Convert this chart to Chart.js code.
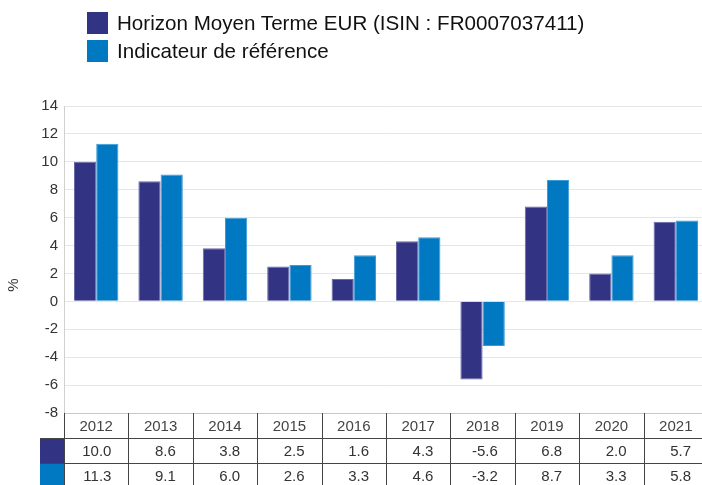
<!DOCTYPE html>
<html>
<head>
<meta charset="utf-8">
<script src="https://cdn.jsdelivr.net/npm/chart.js@4"></script>
<style>
  html, body { margin: 0; padding: 0; background: #fff; overflow: hidden; }
  #wrap { position: relative; width: 702px; height: 485px; overflow: hidden; }
  #myChart { position: absolute; left: 0; top: 0; }
  #legend { position: absolute; left: 87px; top: 12px; font-family: "Liberation Sans", Arial, sans-serif; font-size: 20.6px; color: #111; }
  .item { height: 28px; line-height: 22px; display: flex; align-items: flex-start; }
  .sw { width: 21px; height: 22px; margin-right: 9px; }
</style>
</head>
<body>
<div id="wrap">
  <canvas id="myChart" width="708" height="485"></canvas>
  <div id="legend"></div>
</div>
<script>
const years = ['2012', '2013', '2014', '2015', '2016', '2017', '2018', '2019', '2020', '2021'];
const fundValues = [10.0, 8.6, 3.8, 2.5, 1.6, 4.3, -5.6, 6.8, 2.0, 5.7];
const refValues = [11.3, 9.1, 6.0, 2.6, 3.3, 4.6, -3.2, 8.7, 3.3, 5.8];
const seriesNames = ['Horizon Moyen Terme EUR (ISIN : FR0007037411)', 'Indicateur de référence'];
const colors = ['#333384', '#0079c2'];
const borders = ['#6a6aa8', '#3d9ad6'];

// html legend
const legend = document.getElementById('legend');
seriesNames.forEach(function (name, i) {
    const row = document.createElement('div');
    row.className = 'item';
    row.innerHTML = '<span class="sw" style="background:' + colors[i] + '"></span><span>' + name + '</span>';
    legend.appendChild(row);
});

/* table under the bars + axis title */
const tablePlugin = {
    id: 'dataTable',
    afterDraw(chart) {
        const ctx = chart.ctx;
        const x = chart.scales.x;
        const area = chart.chartArea;
        const rowH = 25;
        const top = area.bottom;
        const step = (area.right - area.left) / years.length;
        const rows = [fundValues, refValues];
        ctx.save();
        // horizontal lines
        ctx.strokeStyle = '#c8c8c8';
        ctx.lineWidth = 1;
        ctx.beginPath();
        ctx.moveTo(area.left, top + 0.5);
        ctx.lineTo(area.right, top + 0.5);
        ctx.stroke();
        ctx.strokeStyle = '#444';
        for (let r = 1; r <= 2; r++) {
            const y = Math.round(top + rowH * r) + 0.5;
            ctx.beginPath();
            ctx.moveTo(40, y);
            ctx.lineTo(area.right, y);
            ctx.stroke();
        }
        // vertical lines
        for (let i = 0; i <= years.length; i++) {
            const xx = Math.round(area.left + step * i) + 0.5;
            ctx.beginPath();
            ctx.moveTo(xx, top);
            ctx.lineTo(xx, top + rowH * 3);
            ctx.stroke();
        }
        // swatches
        colors.forEach(function (c, r) {
            ctx.fillStyle = c;
            ctx.fillRect(40, Math.round(top + rowH * (r + 1)) + 1, area.left - 40, rowH - 1);
        });
        // text
        ctx.font = '15px "Liberation Sans", Arial, sans-serif';
        ctx.textBaseline = 'middle';
        years.forEach(function (yr, i) {
            const cx = x.getPixelForValue(i);
            ctx.textAlign = 'center';
            ctx.fillStyle = '#444';
            ctx.fillText(yr, cx, top + rowH * 0.5 + 1);
            ctx.textAlign = 'right';
            ctx.fillStyle = '#333';
            rows.forEach(function (vals, r) {
                ctx.fillText(vals[i].toFixed(1), area.left + step * (i + 1) - 17, top + rowH * (r + 1.5) + 1);
            });
        });
        // y title
        ctx.translate(14, 285);
        ctx.rotate(-Math.PI / 2);
        ctx.textAlign = 'center';
        ctx.fillStyle = '#333';
        ctx.fillText('%', 0, 0);
        ctx.restore();
    }
};

const ctx = document.getElementById('myChart').getContext('2d');
const myChart = new Chart(ctx, {
    type: 'bar',
    data: {
        labels: years,
        datasets: [
            {
                label: seriesNames[0],
                data: fundValues,
                backgroundColor: colors[0],
                borderColor: borders[0],
                borderWidth: 1,
                categoryPercentage: 0.69,
                barPercentage: 1
            },
            {
                label: seriesNames[1],
                data: refValues,
                backgroundColor: colors[1],
                borderColor: borders[1],
                borderWidth: 1,
                categoryPercentage: 0.69,
                barPercentage: 1
            }
        ]
    },
    options: {
        responsive: false,
        animation: false,
        layout: {
            padding: {
                top: 106,
                bottom: 72,
                left: 0,
                right: 0
            }
        },
        plugins: {
            legend: { display: false },
            tooltip: { enabled: false }
        },
        scales: {
            x: {
                display: false
            },
            y: {
                min: -8,
                max: 14,
                afterFit: function (scale) { scale.width = 64; },
                ticks: {
                    stepSize: 2,
                    color: '#333',
                    padding: 6,
                    font: { size: 15, family: '"Liberation Sans", Arial, sans-serif' }
                },
                grid: {
                    color: '#e6e6e6',
                    drawTicks: false
                },
                border: { color: '#d0d0d0' }
            }
        }
    },
    plugins: [tablePlugin]
});
</script>
</body>
</html>
